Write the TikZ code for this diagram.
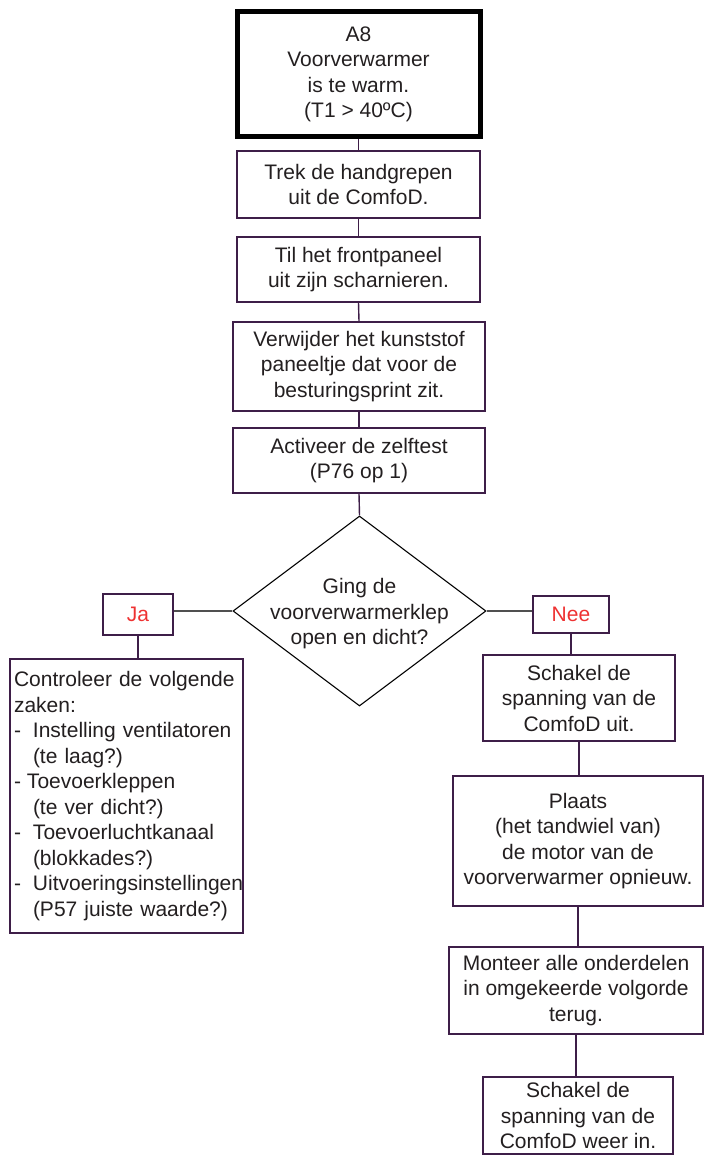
\documentclass[tikz,border=0pt]{standalone}
\usepackage{fontspec}
\setmainfont{Liberation Sans}
\usetikzlibrary{shapes.geometric}

\definecolor{paars}{RGB}{62,30,72}
\definecolor{tekst}{RGB}{35,31,32}
\definecolor{rood}{RGB}{238,50,50}
\definecolor{grijs}{RGB}{80,80,80}

\begin{document}
\begin{tikzpicture}[
  x=1pt,y=-1pt,
  font=\fontsize{21}{25.5}\selectfont,
  every node/.style={text=tekst,inner sep=0pt},
  start/.style={draw=black,line width=5pt,align=center},
  stap/.style={draw=paars,line width=1.4pt,fill=white,align=center},
  keuze/.style={draw=black,line width=1.1pt,diamond},
  antw/.style={draw=paars,line width=1.4pt,text=rood},
  lijn/.style={draw=paars,line width=1.4pt},
  tak/.style={draw=grijs,line width=1.2pt}
]
\useasboundingbox (0,0) rectangle (705,1155);

\node[start,minimum width=243,minimum height=125] (a8) at (358.5,74.5) {A8\\Voorverwarmer\\is te warm.\\(T1 > 40ºC)};
\node[stap,minimum width=243,minimum height=67] (trek) at (358.5,184.5) {Trek de handgrepen\\ uit de ComfoD.};
\node[stap,minimum width=243,minimum height=65] (til) at (358.5,269.5) {Til het frontpaneel\\ uit zijn scharnieren.};
\node[stap,minimum width=252,minimum height=89] (verwijder) at (359,366.5) {Verwijder het kunststof\\paneeltje dat voor de\\ besturingsprint zit.};
\node[stap,minimum width=252,minimum height=65] (zelftest) at (359,460.5) {Activeer de zelftest\\(P76 op 1)};

\node[keuze,minimum width=253,minimum height=190] (keuze) at (359.5,611) {};
\node[align=center] (vraag) at (359.5,614) {Ging de\\voorverwarmerklep\\open en dicht?};

\node[antw,minimum width=70,minimum height=41] (ja) at (138,614.5) {Ja};
\node[antw,minimum width=76,minimum height=37] (nee) at (571,614.5) {Nee};

\node[stap,minimum width=233,minimum height=274,align=left,text width=225] (controle) at (126.5,796) {Controleer de volgende\\
zaken:\\
\makebox[19pt][l]{-}Instelling ventilatoren\\
\hspace*{19pt}(te laag?)\\
\makebox[13pt][l]{-}Toevoerkleppen\\
\hspace*{19pt}(te ver dicht?)\\
\makebox[19pt][l]{-}Toevoerluchtkanaal\\
\hspace*{19pt}(blokkades?)\\
\makebox[19pt][l]{-}Uitvoeringsinstellingen\\
\hspace*{19pt}(P57 juiste waarde?)};

\node[stap,minimum width=192,minimum height=86] (uit) at (579,698) {Schakel de\\spanning van de\\ ComfoD uit.};
\node[stap,minimum width=250,minimum height=130] (plaats) at (578,841) {Plaats\\(het tandwiel van)\\ de motor van de\\voorverwarmer opnieuw.};
\node[stap,minimum width=254,minimum height=87] (monteer) at (576,990.5) {Monteer alle onderdelen\\in omgekeerde volgorde\\terug.};
\node[stap,minimum width=190,minimum height=77] (aan) at (578,1115.5) {Schakel de\\spanning van de\\ComfoD weer in.};

% hoofdlijn
\draw[lijn] (a8.south) -- (trek.north);
\draw[lijn] (trek.south) -- (til.north);
\draw[lijn] (til.south) -- (verwijder.north);
\draw[lijn] (verwijder.south) -- (zelftest.north);
\draw[lijn] (zelftest.south) -- (keuze.north);

% takken
\draw[tak] (keuze.west) -- (keuze.west -| ja.east);
\draw[tak] (keuze.east) -- (keuze.east -| nee.west);
\draw[lijn] (ja.south) -- (ja.south |- controle.north);
\draw[lijn] (nee.south) -- (nee.south |- uit.north);
\draw[lijn] (uit.south) -- (uit.south |- plaats.north);
\draw[lijn] (plaats.south) -- (plaats.south |- monteer.north);
\draw[lijn] (monteer.south) -- (monteer.south |- aan.north);
\end{tikzpicture}
\end{document}
